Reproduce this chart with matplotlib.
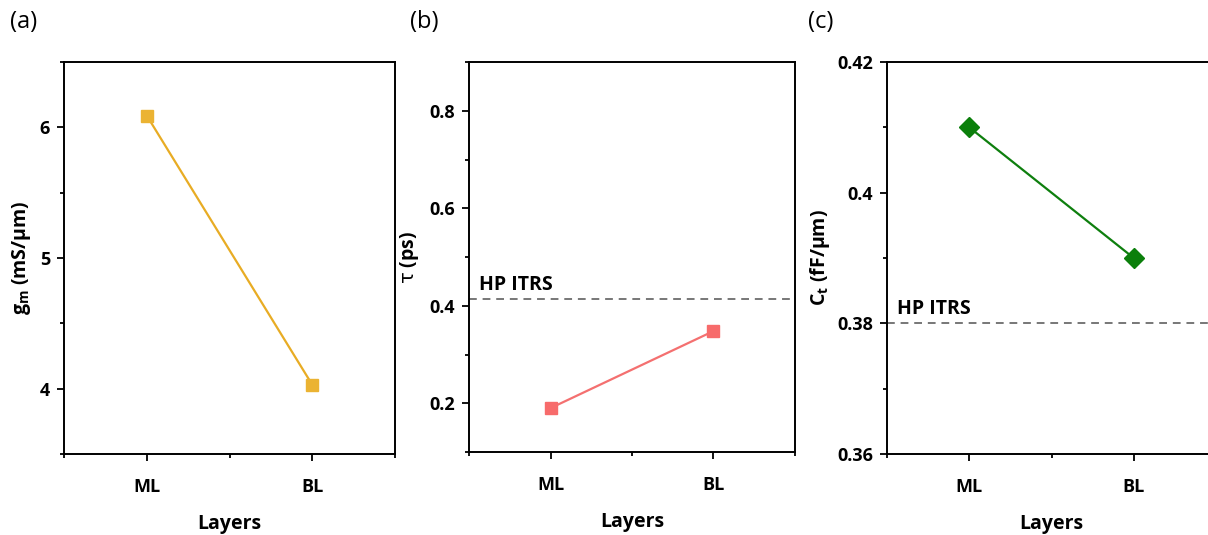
import matplotlib.pyplot as plt
from matplotlib.ticker import MultipleLocator

plt.rcParams['font.family'] = ['Open Sans', 'DejaVu Sans']
plt.rcParams['mathtext.fontset'] = 'custom'
plt.rcParams['mathtext.rm'] = 'Open Sans'
plt.rcParams['mathtext.it'] = 'DejaVu Sans'
plt.rcParams['mathtext.bf'] = 'Open Sans:bold'

# data
layers = ["ML", "BL"]
gm = [6.09, 4.03]          # mS/um
tau = [0.19, 0.348]        # ps
ct = [0.41, 0.39]          # fF/um
tau_itrs = 0.413
ct_itrs = 0.38

W, H = 1208, 535
fig = plt.figure(figsize=(W / 100, H / 100), dpi=100)


def px_axes(left, right, top, bottom):
    return fig.add_axes([left / W, 1 - bottom / H, (right - left) / W, (bottom - top) / H])


def style(ax, ylim, major, minor):
    xs = range(1, len(layers) + 1)
    ax.set_xlim(0.5, 2.5)
    ax.set_xticks(list(xs))
    ax.set_xticklabels(layers)
    ax.xaxis.set_minor_locator(MultipleLocator(0.5))
    ax.set_ylim(*ylim)
    ax.yaxis.set_major_locator(MultipleLocator(major))
    ax.yaxis.set_minor_locator(MultipleLocator(minor))
    ax.tick_params(which='major', direction='out', length=5, width=1.3, labelsize=13)
    ax.tick_params(which='minor', direction='out', length=3, width=1.3)
    ax.tick_params(axis='x', which='major', pad=12)
    ax.tick_params(axis='y', which='major', pad=5)
    for lab in ax.get_xticklabels() + ax.get_yticklabels():
        lab.set_fontweight('bold')
    for s in ax.spines.values():
        s.set_linewidth(1.4)
    ax.set_xlabel("Layers", fontsize=14, fontweight='bold', labelpad=13)


x = [1, 2]

# (a)
ax1 = px_axes(64, 395, 62, 454)
ax1.plot(x, gm, color='#E8AC24', lw=1.6, marker='s', ms=9, mfc='#EBB332', mec='#EBB332')
style(ax1, (3.5, 6.5), 1, 0.5)
ax1.set_ylabel(r"$\mathbf{g_m}$ (mS/μm)", fontsize=14, fontweight='bold', labelpad=5)
fig.text(10 / W, 1 - 22 / H, "(a)", fontsize=17, va='center', ha='left')

# (b)
ax2 = px_axes(469, 795, 62, 452)
ax2.axhline(tau_itrs, color='#777777', lw=1.4, ls=(0, (4, 3)))
ax2.plot(x, tau, color='#F47070', lw=1.6, marker='s', ms=9, mfc='#F76B6B', mec='#F76B6B')
style(ax2, (0.1, 0.9), 0.2, 0.1)
ax2.yaxis.set_major_formatter(plt.FuncFormatter(lambda v, p: f"{v:.1f}"))
ax2.set_ylabel(r"$\tau$ (ps)", fontsize=14, fontweight='bold', labelpad=6)
ax2.text(0.56, tau_itrs + 0.01, "HP ITRS", fontsize=14, fontweight='bold', va='bottom')
fig.text(410 / W, 1 - 22 / H, "(b)", fontsize=17, va='center', ha='left')

# (c)
ax3 = px_axes(887, 1216, 62, 454)
ax3.axhline(ct_itrs, color='#777777', lw=1.4, ls=(0, (4, 3)))
ax3.plot(x, ct, color='#0E7F0E', lw=1.6, marker='D', ms=10, mfc='#0B7F0B', mec='#0B7F0B')
style(ax3, (0.36, 0.42), 0.02, 0.01)
ax3.yaxis.set_major_formatter(plt.FuncFormatter(lambda v, p: "0.4" if abs(v - 0.4) < 1e-9 else f"{v:.2f}"))
ax3.set_ylabel(r"$\mathbf{C_t}$ (fF/μm)", fontsize=14, fontweight='bold', labelpad=4)
ax3.text(0.56, ct_itrs + 0.0006, "HP ITRS", fontsize=14, fontweight='bold', va='bottom')
fig.text(808 / W, 1 - 22 / H, "(c)", fontsize=17, va='center', ha='left')

fig.savefig("out.png", dpi=100)
